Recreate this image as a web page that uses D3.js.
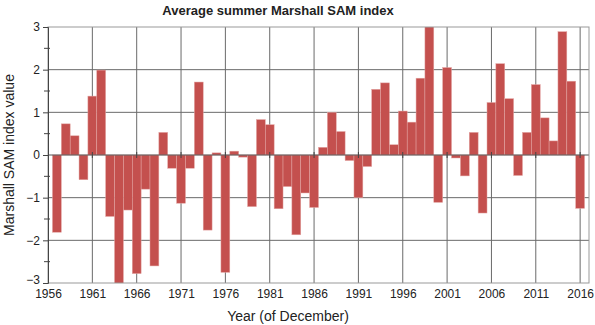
<!DOCTYPE html>
<html>
<head>
<meta charset="utf-8">
<script src="https://cdn.jsdelivr.net/npm/d3@7"></script>
<style>
  body { margin: 0; background: #fff; }
  text { font-family: "Liberation Sans", Arial, sans-serif; fill: #222; }
</style>
</head>
<body>
<div id="chart"></div>
<script>
// years (of December) and the summer SAM index
var years = d3.range(1957, 2017);
var samValues = [
  -1.81, 0.73, 0.45, -0.58, 1.38, 1.99, -1.44, -3.1, -1.29, -2.78,
  -0.80, -2.60, 0.53, -0.31, -1.13, -0.31, 1.71, -1.76, 0.05, -2.75,
  0.09, -0.05, -1.21, 0.83, 0.71, -1.26, -0.74, -1.87, -0.89, -1.23,
  0.18, 1.00, 0.55, -0.13, -1.00, -0.27, 1.54, 1.69, 0.24, 1.03,
  0.77, 1.80, 3.1, -1.11, 2.05, -0.07, -0.49, 0.53, -1.36, 1.23,
  2.14, 1.32, -0.48, 0.53, 1.65, 0.87, 0.33, 2.89, 1.73, -1.25
];
var xTicks = d3.range(1956, 2017, 5);
var yTicks = [-3, -2, -1, 0, 1, 2, 3];
var yMinor = [-2.5, -1.5, -0.5, 0.5, 1.5, 2.5];

var width = 595, height = 325;
var margin = { top: 27, right: 6, bottom: 42, left: 48 };

var svg = d3.select("#chart").append("svg")
    .attr("width", width)
    .attr("height", height);

var x = d3.scaleLinear().domain([1956, 2017]).range([margin.left, width - margin.right]);
var y = d3.scaleLinear().domain([-3, 3]).range([height - margin.bottom, margin.top]);

// clip so that bars going past +-3 are cut at the frame
svg.append("clipPath").attr("id", "plotclip")
  .append("rect")
    .attr("x", margin.left)
    .attr("y", margin.top)
    .attr("width", x(2017) - margin.left)
    .attr("height", y(-3) - margin.top);

// grid
svg.append("g")
  .selectAll("line")
  .data(xTicks.slice(1))
  .join("line")
    .attr("x1", d => x(d)).attr("x2", d => x(d))
    .attr("y1", y(3)).attr("y2", y(-3))
    .attr("stroke", "#6a6a6a")
    .attr("stroke-width", 1);

svg.append("g")
  .selectAll("line")
  .data([-2, -1, 1, 2])
  .join("line")
    .attr("x1", x(1956)).attr("x2", x(2017))
    .attr("y1", d => y(d)).attr("y2", d => y(d))
    .attr("stroke", "#6a6a6a")
    .attr("stroke-width", 1);

// bars
svg.append("g")
    .attr("clip-path", "url(#plotclip)")
  .selectAll("rect")
  .data(years)
  .join("rect")
    .attr("x", d => x(d - 0.5))
    .attr("width", d => x(d + 0.5) - x(d - 0.5))
    .attr("y", (d, i) => y(Math.max(0, samValues[i])))
    .attr("height", (d, i) => Math.abs(y(samValues[i]) - y(0)))
    .attr("fill", "#c4504e")
    .attr("stroke", "#e3a5a3")
    .attr("stroke-width", 0.5);

// zero line and its little ticks
svg.append("line")
    .attr("x1", x(1956)).attr("x2", x(2017))
    .attr("y1", y(0)).attr("y2", y(0))
    .attr("stroke", "#555")
    .attr("stroke-width", 1);
svg.append("g")
  .selectAll("line")
  .data(xTicks.slice(1))
  .join("line")
    .attr("x1", d => x(d)).attr("x2", d => x(d))
    .attr("y1", y(0) - 3).attr("y2", y(0) + 3)
    .attr("stroke", "#444");

// frame
svg.append("rect")
    .attr("x", x(1956))
    .attr("y", y(3))
    .attr("width", x(2017) - x(1956))
    .attr("height", y(-3) - y(3))
    .attr("fill", "none")
    .attr("stroke", "#999")
    .attr("stroke-width", 1);

// y axis
var yAxis = d3.axisLeft(y)
    .tickValues(yTicks)
    .tickSize(5)
    .tickFormat(d => d < 0 ? "\u2212" + Math.abs(d) : d);
var gy = svg.append("g")
    .attr("transform", `translate(${margin.left},0)`)
    .call(yAxis);
gy.select(".domain").attr("stroke", "#444");
gy.selectAll(".tick line").attr("stroke", "#444");
gy.selectAll("text").style("font-size", "12px").attr("x", -8)
    .attr("y", d => d == -3 ? -3 : 0);
svg.append("g")
  .selectAll("line")
  .data(yMinor)
  .join("line")
    .attr("x1", margin.left - 4).attr("x2", margin.left + 2)
    .attr("y1", d => y(d)).attr("y2", d => y(d))
    .attr("stroke", "#444");

// x axis labels
var xAxis = d3.axisBottom(x)
    .tickValues(xTicks)
    .tickSize(0)
    .tickFormat(d3.format("d"));
var gx = svg.append("g")
    .attr("transform", `translate(0,${y(-3)})`)
    .call(xAxis);
gx.select(".domain").remove();
gx.selectAll("text").style("font-size", "12px").attr("dy", "0.71em").attr("y", 6);

// titles
svg.append("text")
    .text("Average summer Marshall SAM index")
    .attr("x", 278)
    .attr("y", 15)
    .attr("text-anchor", "middle")
    .style("font-size", "13px")
    .style("font-weight", "bold");
svg.append("text")
    .text("Year (of December)")
    .attr("x", 288)
    .attr("y", 321)
    .attr("text-anchor", "middle")
    .style("font-size", "14px");
svg.append("text")
    .text("Marshall SAM index value")
    .attr("transform", `translate(14,${y(0)}) rotate(-90)`)
    .attr("text-anchor", "middle")
    .style("font-size", "14px");
</script>
</body>
</html>
